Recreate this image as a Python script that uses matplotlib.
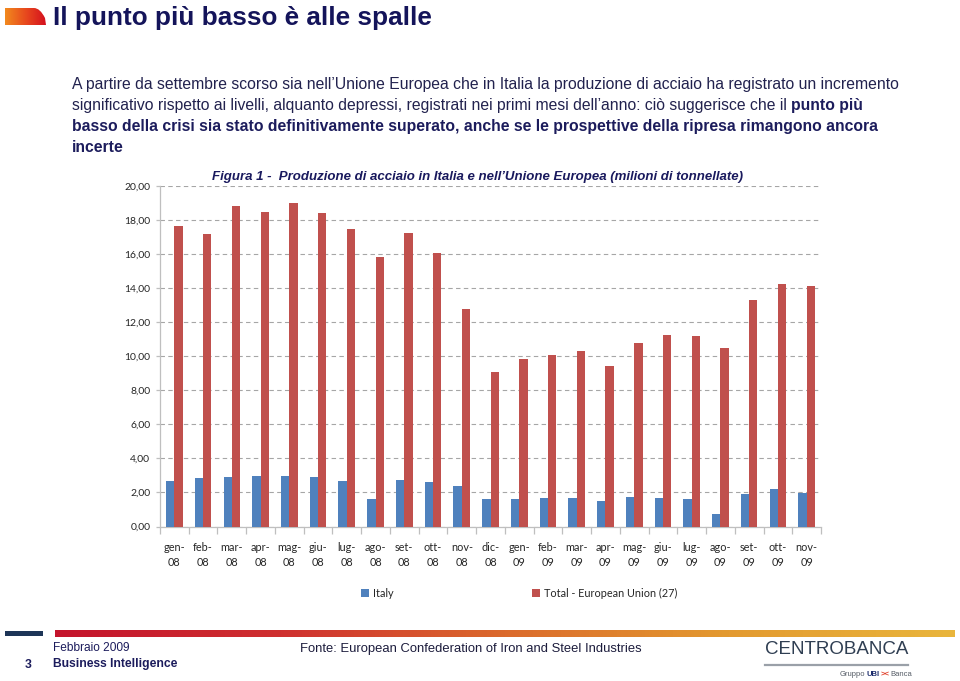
import matplotlib
matplotlib.use('Agg')
import matplotlib.pyplot as plt
import numpy as np
from matplotlib.patches import Rectangle
from matplotlib.path import Path
from matplotlib.patches import PathPatch
from matplotlib.colors import LinearSegmentedColormap
from matplotlib.lines import Line2D
from matplotlib import font_manager as fm

# ---------------- data ----------------
months = ['gen-\n08', 'feb-\n08', 'mar-\n08', 'apr-\n08', 'mag-\n08', 'giu-\n08',
          'lug-\n08', 'ago-\n08', 'set-\n08', 'ott-\n08', 'nov-\n08', 'dic-\n08',
          'gen-\n09', 'feb-\n09', 'mar-\n09', 'apr-\n09', 'mag-\n09', 'giu-\n09',
          'lug-\n09', 'ago-\n09', 'set-\n09', 'ott-\n09', 'nov-\n09']
italy = [2.70, 2.82, 2.92, 2.96, 2.94, 2.92, 2.70, 1.62, 2.76, 2.60, 2.36, 1.64,
         1.60, 1.70, 1.68, 1.50, 1.72, 1.66, 1.60, 0.74, 1.92, 2.20, 1.94]
eu27 = [17.63, 17.20, 18.85, 18.46, 19.01, 18.42, 17.48, 15.83, 17.26, 16.07, 12.78, 9.07,
        9.83, 10.07, 10.30, 9.40, 10.78, 11.22, 11.20, 10.50, 13.30, 14.26, 14.15]
series_names = ['Italy', 'Total - European Union (27)']
yticks = [0, 2, 4, 6, 8, 10, 12, 14, 16, 18, 20]

# ---------------- fonts ----------------
def have(name):
    try:
        fm.findfont(fm.FontProperties(family=name), fallback_to_default=False)
        return True
    except Exception:
        return False

SANS = 'Liberation Sans'
NARROW = 'Liberation Sans Narrow' if have('Liberation Sans Narrow') else 'Liberation Sans'
CAL = 'Lato' if have('Lato') else 'DejaVu Sans'

NAVY = '#14145a'
W, H = 960, 681
fig = plt.figure(figsize=(W / 100, H / 100), dpi=100)
fig.patch.set_facecolor('white')

bg = fig.add_axes([0, 0, 1, 1])
bg.set_xlim(0, W)
bg.set_ylim(H, 0)
bg.axis('off')
bg.set_zorder(-1)

# header gradient tab
grad = np.linspace(0, 1, 256).reshape(1, -1)
cm_head = LinearSegmentedColormap.from_list('h', ['#f28a1e', '#e84a1e', '#d4101e'])
verts = [(5, 25), (5, 8), (34, 8), (40, 8), (45, 18), (46, 25), (5, 25)]
codes = [Path.MOVETO, Path.LINETO, Path.LINETO, Path.CURVE3, Path.CURVE3, Path.LINETO, Path.CLOSEPOLY]
tab = PathPatch(Path(verts, codes), facecolor='none', edgecolor='none')
bg.add_patch(tab)
im = bg.imshow(grad, extent=(5, 46, 25, 8), cmap=cm_head, aspect='auto', interpolation='bicubic')
im.set_clip_path(tab)

bg.text(53, 25.5, 'Il punto più basso è alle spalle', fontsize=18.8, fontweight='bold',
        color=NAVY, va='baseline', ha='left', family=SANS)

# paragraph with mixed bold
renderer = fig.canvas.get_renderer()
para = [
    (85, [('A partire da settembre scorso sia nell’Unione Europea che in Italia la produzione di acciaio ha registrato un incremento', False)]),
    (105.5, [('significativo rispetto ai livelli, alquanto depressi, registrati nei primi mesi dell’anno: ciò suggerisce che il', False),
             ('punto più', True)]),
    (127, [('basso della crisi sia stato definitivamente superato, anche se le prospettive della ripresa rimangono ancora', True)]),
    (147.5, [('incerte', True)]),
]
for y, segs in para:
    x = 72
    for txt, bold in segs:
        t = bg.text(x, y, txt, fontsize=11.3, fontweight='bold' if bold else 'normal',
                    color='#1c1c5c' if bold else '#22224e', va='center', ha='left', family=SANS)
        bb = t.get_window_extent(renderer=renderer)
        x = x + bb.width + 4.5

# ---------------- chart ----------------
L, R, T, B = 160, 821, 186, 526.5
ax = fig.add_axes([L / W, 1 - B / H, (R - L) / W, (B - T) / H])
x = np.arange(len(months))
bw = 0.29
ax.bar(x - bw / 2, italy, bw, color='#4F81BD', label=series_names[0], zorder=3)
ax.bar(x + bw / 2, eu27, bw, color='#C0504D', label=series_names[1], zorder=3)
ax.set_xlim(-0.5, len(months) - 0.5)
ax.set_ylim(0, 20)
ax.set_yticks(yticks)
ax.set_yticklabels([f'{v:.2f}'.replace('.', ',') for v in yticks], fontsize=7.5, family=CAL, color='#262626')
ax.yaxis.grid(True, linestyle=(0, (4, 3)), color='#a6a6a6', lw=0.8, zorder=0)
ax.set_axisbelow(True)
for s in ['top', 'right']:
    ax.spines[s].set_visible(False)
for s in ['left', 'bottom']:
    ax.spines[s].set_color('#bfbfbf')
    ax.spines[s].set_linewidth(0.9)
ax.set_xticks(x)
ax.set_xticklabels(months, fontsize=7.8, family=CAL, color='#262626', linespacing=1.45)
ax.tick_params(axis='x', which='major', length=0, pad=11)
ax.set_xticks(np.arange(-0.5, len(months), 1), minor=True)
ax.tick_params(axis='x', which='minor', length=5, color='#bfbfbf', width=0.9)
ax.tick_params(axis='y', length=3, color='#bfbfbf', width=0.9, pad=4)

fig.text(478 / W, 1 - 177 / H, 'Figura 1 -  Produzione di acciaio in Italia e nell’Unione Europea (milioni di tonnellate)',
         fontsize=9.5, fontweight='bold', fontstyle='italic', color='#1a1a5e', ha='center', va='center', family=SANS)

h, l = ax.get_legend_handles_labels()
fig.legend(h, l, loc='center', bbox_to_anchor=(519 / W, 1 - 593.5 / H), ncol=2, frameon=False,
           prop={'family': CAL, 'size': 7.8}, handlelength=0.75, handleheight=0.75, handletextpad=0.35,
           columnspacing=12.8, labelcolor='#262626')

# ---------------- footer ----------------
bg.add_patch(Rectangle((5, 630.5), 38, 5.5, facecolor='#1d3557', edgecolor='none'))
cm_foot = LinearSegmentedColormap.from_list('f', ['#c4142c', '#cf3030', '#db6a2c', '#e39a30', '#e9b53c'])
bg.imshow(grad, extent=(55, 955, 637, 630), cmap=cm_foot, aspect='auto', interpolation='bicubic')
bg.set_xlim(0, W)
bg.set_ylim(H, 0)

bg.text(53, 648, 'Febbraio 2009', fontsize=8.6, color='#1c1c5c', va='center', ha='left', family=NARROW)
bg.text(25, 664.5, '3', fontsize=8.8, fontweight='bold', color='#1c1c5c', va='center', ha='left', family=SANS)
bg.text(53, 664.5, 'Business Intelligence', fontsize=8.7, fontweight='bold', color='#1c1c5c', va='center', ha='left', family=SANS)
bg.text(300, 649, 'Fonte: European Confederation of Iron and Steel Industries', fontsize=9.4, color='#1c1c3c',
        va='center', ha='left', family=NARROW)

# logo
bg.text(765, 650, 'CENTROBANCA', fontsize=13.5, color='#2f3e52', va='center', ha='left', family=NARROW)
bg.add_line(Line2D([765, 908], [665, 665], color='#9aa0a8', lw=1.6))
xx = 840
for txt, col, wt in [('Gruppo', '#555c66', 'normal'), ('UBI', '#1c2c6c', 'bold'), ('><', '#e0402a', 'bold'), ('Banca', '#555c66', 'normal')]:
    t = bg.text(xx, 675, txt, fontsize=5.5, color=col, fontweight=wt, va='center', ha='left', family=NARROW)
    xx += t.get_window_extent(renderer=renderer).width + 1

fig.savefig('out.png', dpi=100, facecolor='white')
